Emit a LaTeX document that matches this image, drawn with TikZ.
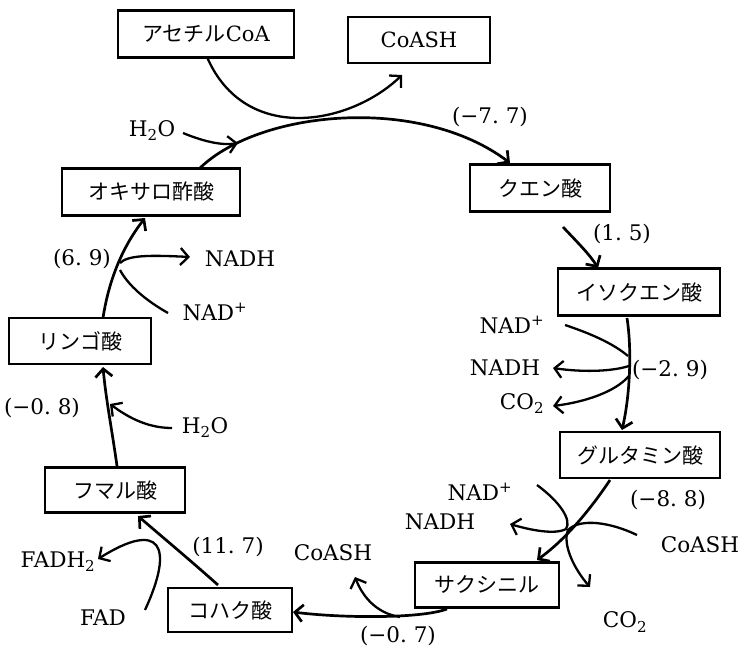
\documentclass[tikz,border=0pt]{standalone}
\usepackage{fontspec}
\setmainfont{DejaVu Serif}
\newfontfamily\jp{Noto Sans CJK JP}
\usetikzlibrary{arrows.meta}
\begin{document}
\begin{tikzpicture}[x=1pt,y=-1pt,
 box/.style={draw,line width=2.2pt,inner sep=0pt,font=\jp\fontsize{21}{24}\selectfont},
 lbl/.style={font=\fontsize{21.5}{24}\selectfont,inner sep=0pt},
 main/.style={line width=2.7pt,-{Straight Barb[length=8pt,width=17pt]}},
 side/.style={line width=2.3pt,-{Straight Barb[length=8pt,width=17pt]}},
 plain/.style={line width=2.3pt}]
\useasboundingbox[fill=white] (0,0) rectangle (750,654);

% boxes
\node[box,minimum width=176pt,minimum height=47pt] (acetyl) at (206,34) {アセチル{\rmfamily CoA}};
\node[box,minimum width=142pt,minimum height=46pt] (coash1) at (419,40) {\rmfamily CoASH};
\node[box,minimum width=178pt,minimum height=47pt] (oxalo) at (151,192) {オキサロ酢酸};
\node[box,minimum width=140pt,minimum height=47pt] (citrate) at (540,188) {クエン酸};
\node[box,minimum width=162pt,minimum height=47pt] (isocit) at (639,292) {イソクエン酸};
\node[box,minimum width=160pt,minimum height=46pt] (glut) at (640,455) {グルタミン酸};
\node[box,minimum width=144pt,minimum height=45pt] (succoa) at (487,585) {サクシニル};
\node[box,minimum width=124pt,minimum height=44pt] (succ) at (230,610) {コハク酸};
\node[box,minimum width=140pt,minimum height=45pt] (fum) at (115,490) {フマル酸};
\node[box,minimum width=142pt,minimum height=46pt] (mal) at (80,341) {リンゴ酸};

% labels
\node[lbl] (h2oa) at (152,131) {H\textsubscript{2}O};
\node[lbl] (d1) at (490,117) {(−7.\ 7)};
\node[lbl] (d2) at (622,234) {(1.\ 5)};
\node[lbl] (nad1) at (512,325) {NAD\textsuperscript{+}};
\node[lbl] (nadh1) at (505,368) {NADH};
\node[lbl] (co2a) at (522,404) {CO\textsubscript{2}};
\node[lbl] (d3) at (670,370) {(−2.\ 9)};
\node[lbl] (nad2) at (480,492) {NAD\textsuperscript{+}};
\node[lbl] (nadh2) at (440,522) {NADH};
\node[lbl] (d4) at (668,500) {(−8.\ 8)};
\node[lbl] (coash2) at (700,545) {CoASH};
\node[lbl] (co2b) at (625,622) {CO\textsubscript{2}};
\node[lbl] (coash3) at (333,553) {CoASH};
\node[lbl] (d5) at (398,636) {(−0.\ 7)};
\node[lbl] (d6) at (228,547) {(11.\ 7)};
\node[lbl] (fadh2) at (58,562) {FADH\textsubscript{2}};
\node[lbl] (fad) at (103,618) {FAD};
\node[lbl] (d7) at (42,408) {(−0.\ 8)};
\node[lbl] (h2ob) at (205,428) {H\textsubscript{2}O};
\node[lbl] (d8) at (82,259) {(6.\ 9)};
\node[lbl] (nadh3) at (240,259) {NADH};
\node[lbl] (nad3) at (215,312) {NAD\textsuperscript{+}};

% free-end coordinates
\coordinate (j1s) at (200,168);
\coordinate (j1e) at (510,163);
\coordinate (a1s) at (207,57);
\coordinate (a1e) at (402,75);
\coordinate (h1s) at (183,133);
\coordinate (h1e) at (238,143);

% 1 oxaloacetate -> citrate
\draw[main] (j1s) .. controls (260,110) and (420,95) .. (j1e);
\draw[side] (a1s) .. controls (245,145) and (350,125) .. (a1e);
\draw[side] (h1s) .. controls (200,140) and (220,146) .. (h1e);

% 2 citrate -> isocitrate
\draw[main] (563,227) .. controls (580,245) and (590,255) .. (598,268);

% 3 isocitrate -> glutamate
\draw[main] (627,318) .. controls (632,350) and (630,395) .. (622,430);
\draw[plain] (565,325) .. controls (595,335) and (615,345) .. (628,356);
\draw[side] (629,366) .. controls (610,372) and (580,372) .. (553,368);
\draw[side] (629,376) .. controls (615,392) and (585,402) .. (553,406);

% 4 glutamate -> succinyl
\draw[main] (610,480) .. controls (590,510) and (565,540) .. (537,560);
\draw[side] (537,485) .. controls (560,502) and (572,520) .. (566,529) .. controls (555,535) and (530,530) .. (510,524);
\draw[side] (637,535) .. controls (610,522) and (580,518) .. (568,530) .. controls (562,545) and (575,570) .. (590,587);

% 5 succinyl -> succinate
\draw[main] (447,609) .. controls (420,619) and (340,618) .. (293,612);
\draw[side] (400,617) .. controls (375,613) and (362,595) .. (355,577);

% 6 succinate -> fumarate
\draw[main] (218,585) .. controls (190,560) and (160,535) .. (138,516);
\draw[side] (145,610) .. controls (175,545) and (160,520) .. (98,559);

% 7 fumarate -> malate
\draw[main] (117,466) .. controls (112,430) and (106,400) .. (103,367);
\draw[side] (172,428) .. controls (145,428) and (125,415) .. (110,404);

% 8 malate -> oxaloacetate
\draw[main] (103,318) .. controls (108,285) and (120,250) .. (145,218);
\draw[side] (120,263) .. controls (128,255) and (150,255) .. (190,257);
\draw[plain] (168,313) .. controls (145,300) and (128,285) .. (120,270);
\end{tikzpicture}
\end{document}
